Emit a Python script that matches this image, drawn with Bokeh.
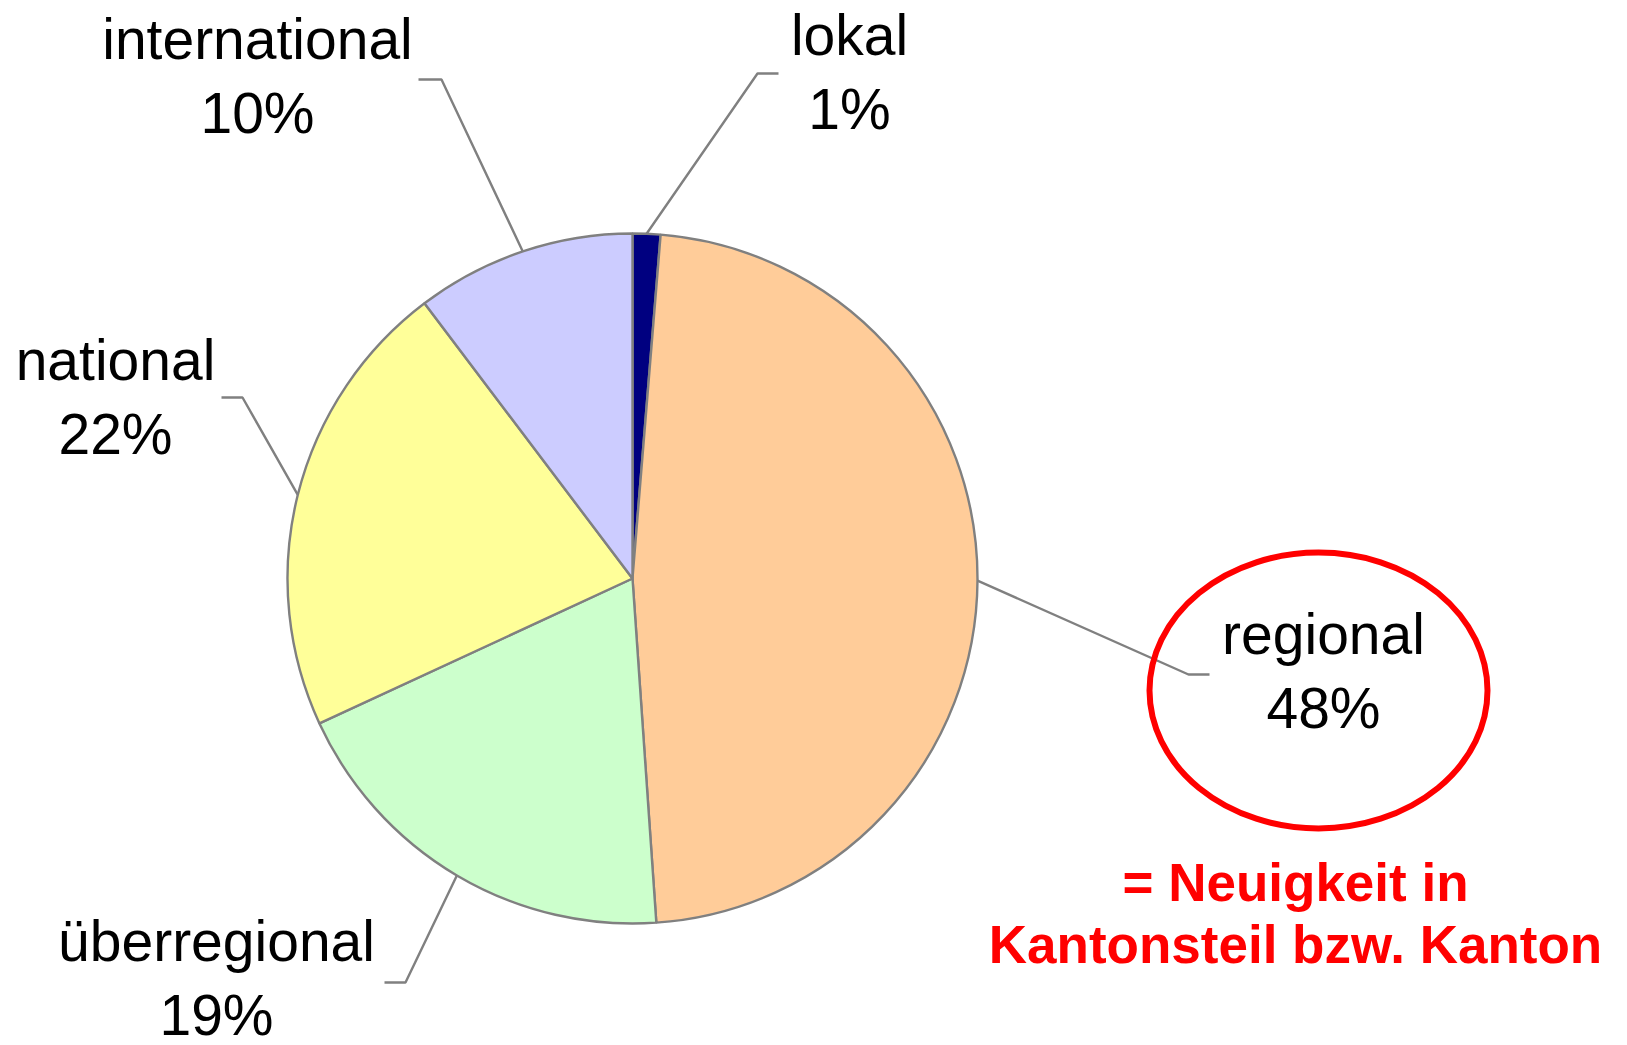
import math
from bokeh.plotting import figure
from bokeh.models import Range1d, ColumnDataSource
from bokeh.core.properties import value
from bokeh.embed import file_html
from bokeh.resources import INLINE

categories = ["lokal", "regional", "überregional", "national", "international"]
shares = [1.3, 47.6, 19.2, 21.6, 10.3]
colors = ["#000080", "#FFCC99", "#CCFFCC", "#FFFF99", "#CCCCFF"]
note_lines = ["= Neuigkeit in", "Kantonsteil bzw. Kanton"]

W, H = 1627, 1045
FONT = "Liberation Sans"
TXT_SHIFT = 23  # compensate renderer baseline offset

def Y(sy):
    return H - sy

p = figure(width=W, height=H, output_backend="svg",
           toolbar_location=None, x_range=Range1d(0, W),
           y_range=Range1d(0, H), min_border=0)
p.axis.visible = False
p.grid.visible = False
p.outline_line_color = None
p.background_fill_color = "white"
p.border_fill_color = "white"

cx, cy, R = 632, 578, 345

total = sum(shares)
starts, ends, mids = [], [], []
cum = 0.0
for v in shares:
    a0 = math.pi / 2 - 2 * math.pi * (cum + v) / total
    a1 = math.pi / 2 - 2 * math.pi * cum / total
    starts.append(a0)
    ends.append(a1)
    mids.append((a0 + a1) / 2)
    cum += v

src = ColumnDataSource(dict(start=starts, end=ends, color=colors, cat=categories))
p.wedge(x=cx, y=Y(cy), radius=R, start_angle="start", end_angle="end",
        fill_color="color", line_color="#808080", line_width=2.4, source=src)

# label layout: (elbow screen x, elbow screen y, horizontal end x, text center x, first baseline y)
layout = {
    "lokal": (757, 73, 778, 849, 57),
    "regional": (1188, 674, 1209, 1323, 656),
    "überregional": (405, 982, 384, 216, 963),
    "national": (242, 397, 221, 115, 382),
    "international": (441, 79, 418, 257, 61),
}
LH = 74
for cat, v, m in zip(categories, shares, mids):
    ex, ey, hx, tx, ty = layout[cat]
    ax = cx + R * math.cos(m)
    ay = Y(cy) + R * math.sin(m)
    p.line([ax, ex, hx], [ay, Y(ey), Y(ey)], line_color="#808080", line_width=2.4)
    p.text(x=[tx, tx], y=[Y(ty - TXT_SHIFT), Y(ty + LH - TXT_SHIFT)],
           text=[cat, f"{round(v)}%"],
           text_font=value(FONT), text_font_size="57px", text_color="black",
           text_align="center", text_baseline="alphabetic")

p.ellipse(x=1318, y=Y(690), width=338, height=276, fill_color=None,
          line_color="#FF0000", line_width=6)

p.text(x=[1295, 1295], y=[Y(905 - TXT_SHIFT), Y(967 - TXT_SHIFT)], text=note_lines,
       text_font=value(FONT), text_font_size="53px", text_font_style="bold",
       text_color="#FF0000", text_align="center", text_baseline="alphabetic")

open("out.html", "w").write(file_html(p, INLINE))
